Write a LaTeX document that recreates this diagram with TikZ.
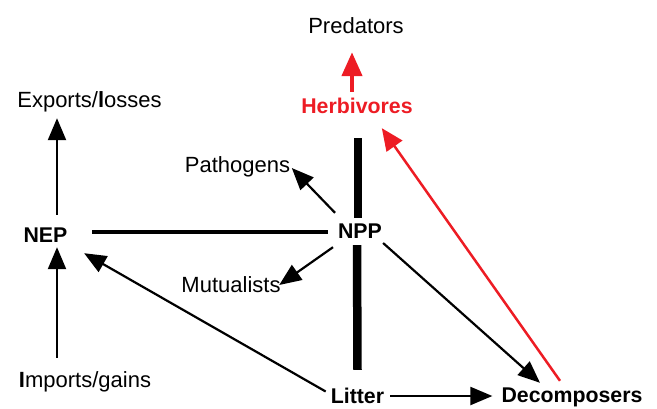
\documentclass[tikz,border=0pt]{standalone}
\usepackage{fontspec}
\setmainfont{Liberation Sans}
\usetikzlibrary{arrows.meta}
\definecolor{hred}{HTML}{ED1C24}
\begin{document}
\begin{tikzpicture}[x=1pt,y=-1pt,
  lbl/.style={anchor=base,inner sep=0pt,text height=16pt,text depth=5pt,font=\fontsize{22}{26}\selectfont},
  blbl/.style={lbl,font=\fontsize{21.3}{25}\selectfont\bfseries},
  arr/.style={line width=2.2pt,-{Triangle[length=22pt,width=18pt]}},
  redarr/.style={hred,line width=2.5pt,-{Triangle[length=22pt,width=19pt]}},
  bigred/.style={hred,line width=4.5pt,-{Triangle[length=24pt,width=20pt]}},
  thickline/.style={line width=4.5pt},
  vthick/.style={line width=8.5pt}]
\useasboundingbox (0,0) rectangle (657,408);
\node[lbl] (pred) at (356,33) {Predators};
\node[blbl,text=hred] (herb) at (357,113) {Herbivores};
\node[lbl] (exp) at (89.5,107) {Exports/{\bfseries l}osses};
\node[blbl] (nep) at (45.5,242) {NEP};
\node[lbl] (imp) at (85,387) {{\bfseries I}mports/gains};
\node[blbl] (npp) at (360,238) {NPP};
\node[lbl] (path) at (237.5,172) {Pathogens};
\node[lbl] (mut) at (231,292) {Mutualists};
\node[blbl] (litter) at (357.5,403) {Litter};
\node[blbl] (dec) at (572,402) {Decomposers};
% connectors
\draw[bigred] ([xshift=-5pt,yshift=5pt]herb.north) -- ([xshift=-4pt,yshift=-14pt]pred.south);
\draw[arr] ([xshift=11.5pt,yshift=11pt]nep.north) -- ([xshift=-32.5pt,yshift=-6pt]exp.south);
\draw[arr] ([xshift=-28pt,yshift=13pt]imp.north) -- ([xshift=11.5pt]nep.south);
\draw[thickline] ([xshift=24.5pt,yshift=4.5pt]nep.east) -- ([xshift=-10pt,yshift=0.5pt]npp.west);
\draw[vthick] ([xshift=-2pt,yshift=4pt]npp.north) -- ([xshift=1pt,yshift=-20pt]herb.south);
\draw[vthick] ([xshift=-3pt,yshift=-2pt]npp.south) -- ([yshift=17pt]litter.north);
\draw[arr] ([xshift=-25pt,yshift=9pt]npp.north) -- ([xshift=1.5pt,yshift=-1.5pt]path.east);
\draw[arr] ([xshift=-27pt,yshift=-4pt]npp.south) -- ([xshift=-1.5pt,yshift=1.5pt]mut.east);
\draw[arr] ([xshift=1pt,yshift=-10.5pt]npp.east) -- ([xshift=-32pt,yshift=3pt]dec.north);
\draw[redarr] ([xshift=-12pt,yshift=5pt]dec.north) -- ([xshift=-31pt,yshift=-10pt]herb.south east);
\draw[arr] ([xshift=6pt,yshift=1.5pt]litter.east) -- ([xshift=-9pt,yshift=0.5pt]dec.west);
\draw[arr] ([xshift=-5pt,yshift=6pt]litter.west) -- ([xshift=16.5pt,yshift=-6pt]nep.south east);
\end{tikzpicture}
\end{document}
